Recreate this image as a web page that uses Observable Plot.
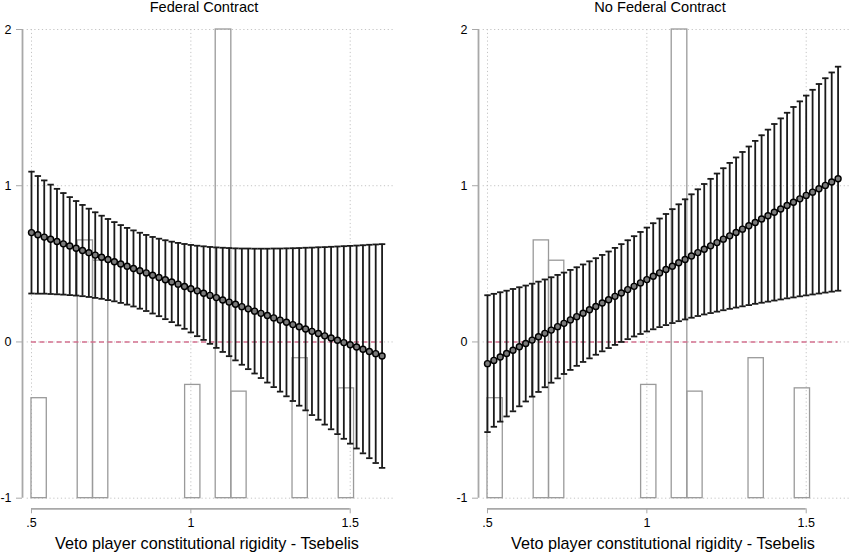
<!DOCTYPE html>
<html><head><meta charset="utf-8">
<script src="https://cdn.jsdelivr.net/npm/d3@7"></script>
<script src="https://cdn.jsdelivr.net/npm/@observablehq/plot@0.6"></script>
<style>
html,body{margin:0;padding:0;background:#fff;overflow:hidden;}
#wrap{position:relative;width:865px;height:553px;font-family:"Liberation Sans",Arial,sans-serif;}
.panel{position:absolute;top:0;}
.panel g[aria-label$="tick label"]{font-size:12.5px !important;}
.panel g[aria-label$="tick label"] text{font-size:12.5px !important;fill:#000;}
</style></head><body><div id="wrap"></div>
<script>
// ---- data ----
const xs = [0.50,0.52,0.54,0.56,0.58,0.60,0.62,0.64,0.66,0.68,0.70,0.72,0.74,0.76,0.78,0.80,0.82,0.84,0.86,0.88,
  0.90,0.92,0.94,0.96,0.98,1.00,1.02,1.04,1.06,1.08,1.10,1.12,1.14,1.16,1.18,1.20,1.22,1.24,1.26,1.28,
  1.30,1.32,1.34,1.36,1.38,1.40,1.42,1.44,1.46,1.48,1.50,1.52,1.54,1.56,1.58,1.60];

const estFed = [0.700,0.686,0.671,0.657,0.643,0.628,0.614,0.600,0.585,0.571,0.556,0.542,0.528,0.513,0.499,0.485,0.470,0.456,0.442,0.427,
  0.413,0.398,0.384,0.370,0.355,0.341,0.327,0.312,0.298,0.284,0.269,0.255,0.241,0.226,0.212,0.197,0.183,0.169,0.154,0.140,
  0.126,0.111,0.097,0.083,0.068,0.054,0.039,0.025,0.011,-0.004,-0.018,-0.032,-0.047,-0.061,-0.075,-0.090];
const loFed = [0.310,0.309,0.309,0.307,0.305,0.303,0.300,0.297,0.293,0.288,0.282,0.276,0.268,0.260,0.250,0.239,0.227,0.213,0.198,0.182,
  0.165,0.146,0.127,0.106,0.084,0.061,0.037,0.013,-0.012,-0.038,-0.064,-0.091,-0.118,-0.146,-0.174,-0.202,-0.231,-0.260,-0.289,-0.318,
  -0.348,-0.378,-0.408,-0.438,-0.468,-0.498,-0.529,-0.559,-0.590,-0.620,-0.651,-0.682,-0.713,-0.744,-0.775,-0.806];
const hiFed = [1.090,1.062,1.034,1.007,0.980,0.953,0.927,0.902,0.877,0.853,0.830,0.808,0.787,0.767,0.748,0.730,0.714,0.699,0.685,0.672,
  0.661,0.651,0.642,0.634,0.627,0.621,0.616,0.612,0.608,0.605,0.603,0.601,0.599,0.598,0.598,0.597,0.597,0.597,0.598,0.598,
  0.599,0.600,0.601,0.603,0.604,0.606,0.607,0.609,0.611,0.613,0.615,0.617,0.619,0.622,0.624,0.626];

const estNo = [-0.139,-0.118,-0.096,-0.074,-0.053,-0.031,-0.010,0.012,0.033,0.055,0.076,0.098,0.119,0.141,0.162,0.184,0.206,0.227,0.249,0.270,
  0.292,0.313,0.335,0.356,0.378,0.399,0.421,0.442,0.464,0.485,0.507,0.528,0.550,0.572,0.593,0.615,0.636,0.658,0.679,0.701,
  0.722,0.744,0.765,0.787,0.808,0.830,0.851,0.873,0.894,0.916,0.938,0.959,0.981,1.002,1.024,1.045];
const loNo = [-0.577,-0.543,-0.510,-0.477,-0.444,-0.412,-0.381,-0.350,-0.320,-0.290,-0.261,-0.233,-0.205,-0.179,-0.153,-0.128,-0.105,-0.082,-0.060,-0.039,
  -0.019,0.000,0.018,0.035,0.051,0.067,0.081,0.095,0.108,0.121,0.133,0.144,0.155,0.166,0.176,0.185,0.194,0.203,0.212,0.220,
  0.228,0.236,0.244,0.251,0.258,0.265,0.272,0.279,0.285,0.292,0.298,0.304,0.310,0.316,0.322,0.328];
const hiNo = [0.299,0.308,0.318,0.328,0.339,0.350,0.361,0.373,0.386,0.400,0.414,0.429,0.444,0.461,0.478,0.496,0.516,0.536,0.557,0.579,
  0.602,0.626,0.651,0.677,0.704,0.732,0.760,0.790,0.819,0.850,0.881,0.913,0.945,0.977,1.011,1.044,1.078,1.112,1.146,1.181,
  1.216,1.251,1.287,1.323,1.359,1.395,1.431,1.467,1.504,1.540,1.577,1.614,1.651,1.688,1.725,1.762];

// histogram of the moderator (drawn on the y scale from -1)
const binStart = [0.500,0.645,0.693,0.982,1.078,1.127,1.319,1.464];
const binEnd   = [0.548,0.693,0.741,1.030,1.127,1.175,1.367,1.512];
const binTop   = [-0.36,0.65,0.52,-0.275,2.0,-0.318,-0.104,-0.297];

const panelTitles = ["Federal Contract","No Federal Contract"];
const xTicks = [0.5,1,1.5];
const xTickLabels = [".5","1","1.5"];
const yTicks = [-1,0,1,2];
const yTickLabels = ["-1","0","1","2"];
const xTitle = "Veto player constitutional rigidity - Tsebelis";

// ---- build ----
const bins = binStart.map((s,i)=>({x1:s, x2:binEnd[i], y2:binTop[i]}));
const series = [
  xs.map((x,i)=>({x, est:estFed[i], lo:loFed[i], hi:hiFed[i]})),
  xs.map((x,i)=>({x, est:estNo[i], lo:loNo[i], hi:hiNo[i]}))
];
const xDomain = [0.4718, 1.6421];
const yDomain = [-1.068, 2];
const capSymbol = {draw(ctx, size){ const r = Math.sqrt(size/Math.PI); ctx.moveTo(-r,0); ctx.lineTo(r,0); }};
const font = '"Liberation Sans", Arial, sans-serif';

function panel(data, title){
  return Plot.plot({
    width: 409, height: 553,
    marginLeft: 22, marginRight: 14, marginTop: 29, marginBottom: 44.7,
    style: {fontFamily: font, background: "#fff", overflow: "visible", fontSize: "12.5px"},
    x: {domain: xDomain},
    y: {domain: yDomain},
    marks: [
      Plot.ruleY(yTicks, {x1: 0.4865, x2: xDomain[1], stroke: "#c4c4c4", strokeDasharray: "1.2,2.6", strokeWidth: 1}),
      Plot.ruleX(xTicks, {y1: yTicks[0], y2: yTicks[yTicks.length-1], stroke: "#c4c4c4", strokeDasharray: "1.2,2.6", strokeWidth: 1}),
      Plot.rect(bins, {x1: "x1", x2: "x2", y1: -1, y2: "y2", fill: "none", stroke: "#9a9a9a", strokeWidth: 1.3}),
      Plot.ruleY([0], {x1: xs[0], x2: xs[xs.length-1], stroke: "#d4708f", strokeDasharray: "5,3.5", strokeWidth: 1.5}),
      Plot.ruleX(data, {x: "x", y1: "lo", y2: "hi", stroke: "#1a1a1a", strokeWidth: 1.8}),
      Plot.dot(data, {x: "x", y: "lo", symbol: capSymbol, r: 3.2, stroke: "#1a1a1a", strokeWidth: 1.8, fill: "none"}),
      Plot.dot(data, {x: "x", y: "hi", symbol: capSymbol, r: 3.2, stroke: "#1a1a1a", strokeWidth: 1.8, fill: "none"}),
      Plot.line(data, {x: "x", y: "est", stroke: "#000", strokeWidth: 1.4}),
      Plot.dot(data, {x: "x", y: "est", r: 3, fill: "#7a7a7a", stroke: "#000", strokeWidth: 1.4}),
      // axis lines (Stata style, offset)
      Plot.ruleX([xDomain[0]], {y1: yTicks[0], y2: yTicks[yTicks.length-1], stroke: "#a8a8a8", strokeWidth: 1.8}),
      Plot.ruleY([yDomain[0]], {x1: xTicks[0], x2: xTicks[xTicks.length-1], stroke: "#a8a8a8", strokeWidth: 1.8}),
      Plot.axisY({ticks: yTicks, tickFormat: (d)=>yTickLabels[yTicks.indexOf(d)], tickSize: 6, tickPadding: 5,
        stroke: "#a8a8a8", fill: "#000", fontSize: 12.5, label: null}),
      Plot.axisX({ticks: xTicks, tickFormat: (d)=>xTickLabels[xTicks.indexOf(d)], tickSize: 5, tickPadding: 4,
        stroke: "#a8a8a8", fill: "#000", fontSize: 12.5, label: null}),
      Plot.text([title], {frameAnchor: "top", lineAnchor: "bottom", dy: -18, dx: -5, fontSize: 14.6, fill: "#000"}),
      Plot.text([xTitle], {frameAnchor: "bottom", lineAnchor: "bottom", dy: 39.7, dx: -2, fontSize: 16.2, fill: "#000"})
    ]
  });
}

const wrap = document.getElementById("wrap");
[0,1].forEach(k=>{
  const svg = panel(series[k], panelTitles[k]);
  const div = document.createElement("div");
  div.className = "panel";
  div.style.left = (k*456) + "px";
  div.appendChild(svg);
  wrap.appendChild(div);
});
</script></body></html>
